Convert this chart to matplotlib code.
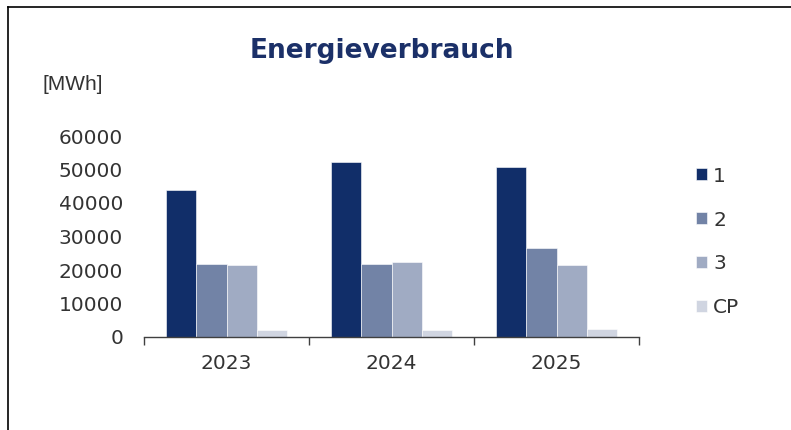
import numpy as np
import matplotlib.pyplot as plt
from matplotlib.lines import Line2D

years = ['2023', '2024', '2025']
series = ['1', '2', '3', 'CP']
vals_1 = [44000, 52100, 50600]
vals_2 = [21900, 21900, 26500]
vals_3 = [21500, 22300, 21500]
vals_cp = [2000, 2000, 2400]
yticks = [0, 10000, 20000, 30000, 40000, 50000, 60000]

colors = ['#112e69', '#7283a6', '#a0abc3', '#d0d5e1']
txt = '#333333'

fig = plt.figure(figsize=(7.91, 4.30), dpi=100)
ax = fig.add_axes([144/791, 1-337/430, (639-144)/791, (337-136)/430])

x = np.arange(len(years))
w = 0.73 / 4
handles = []
for i, (lab, v) in enumerate(zip(series, [vals_1, vals_2, vals_3, vals_cp])):
    b = ax.bar(x + (i - 1.5) * w, v, w, color=colors[i], edgecolor='white',
               linewidth=0.4, label=lab)
    handles.append(b)

ax.set_xlim(-0.5, len(years) - 0.5)
ax.set_ylim(0, 60000)
ax.set_yticks(yticks)
ax.set_yticklabels([str(t) for t in yticks], fontsize=14.5, color=txt)
ax.tick_params(axis='y', length=0, pad=15)

# boundaries as major ticks, year labels as minor ticks
ax.set_xticks(np.arange(len(years) + 1) - 0.5)
ax.set_xticklabels([])
ax.tick_params(axis='x', which='major', length=6, width=1, color='#404040', direction='out')
ax.set_xticks(x, minor=True)
ax.set_xticklabels(years, minor=True, fontsize=14.5, color=txt)
ax.tick_params(axis='x', which='minor', length=0, pad=12)

for s in ['top', 'right', 'left']:
    ax.spines[s].set_visible(False)
ax.spines['bottom'].set_color('#404040')
ax.spines['bottom'].set_linewidth(1)

fig.text(0.483, 0.881, 'Energieverbrauch', fontsize=19, fontweight='bold',
         color='#1b3068', ha='center', va='center')
fig.text(42/791, 1-85/430, '[MWh]', fontsize=15, color=txt,
         family='Liberation Sans', ha='left', va='center')

fig.legend(handles=handles, labels=series, loc='center left',
           bbox_to_anchor=(696/791, 1-242/430), frameon=False,
           fontsize=14.5, labelcolor=txt, handlelength=0.55, handleheight=0.55,
           handletextpad=0.3, labelspacing=1.24, borderpad=0, borderaxespad=0)

# outer frame (left and top edges)
fig.add_artist(Line2D([8/791, 8/791], [0, 1-7/430], color='black', lw=1.2,
                      transform=fig.transFigure))
fig.add_artist(Line2D([8/791, 1], [1-7/430, 1-7/430], color='black', lw=1.2,
                      transform=fig.transFigure))

fig.savefig('out.png', dpi=100)
